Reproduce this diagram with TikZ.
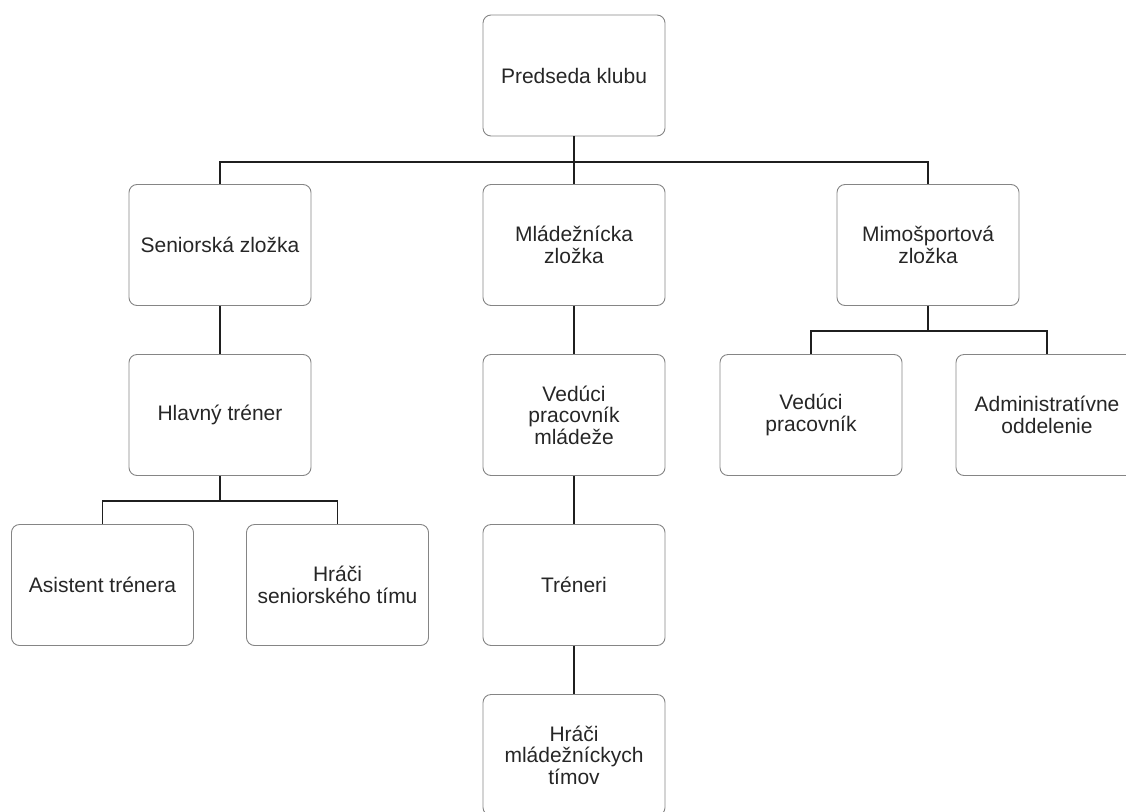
\documentclass[tikz,border=0pt]{standalone}
\usepackage{fontspec}
\setmainfont{Liberation Sans}
\begin{document}
\begin{tikzpicture}[x=1pt,y=-1pt,
  box/.style={draw=black!48,line width=0.9pt,rounded corners=8pt,minimum width=182pt,minimum height=121pt,align=center,inner sep=0pt,text=black!85,font=\fontsize{21}{21.5}\selectfont},
  link/.style={draw=black!88,line width=1.3pt},
  stem/.style={draw=black!88,line width=2pt}]
\useasboundingbox (0,0) rectangle (1126,811);
\clip (0,0) rectangle (1126,811);
\node[box] (P) at (574,75.5) {Predseda klubu};
\node[box] (S) at (220,245) {Seniorská zložka};
\node[box] (M) at (574,245) {Mládežnícka\\zložka};
\node[box] (O) at (928,245) {Mimošportová\\zložka};
\node[box] (H) at (220,415) {Hlavný tréner};
\node[box] (V) at (574,415) {Vedúci\\pracovník\\mládeže};
\node[box] (VP) at (811,415) {Vedúci\\pracovník};
\node[box] (AO) at (1047,415) {Administratívne\\oddelenie};
\node[box] (AT) at (102.5,585) {Asistent trénera};
\node[box] (HS) at (337.5,585) {Hráči\\seniorského tímu};
\node[box] (T) at (574,585) {Tréneri};
\node[box] (HM) at (574,755) {Hráči\\mládežníckych\\tímov};
\coordinate (b1) at (574,162);
\coordinate (b2) at (220,501);
\coordinate (b3) at (928,331);
\draw[stem] (P.south) -- (b1);
\draw[link] (b1) -| (S.north);
\draw[link] (b1) -| (O.north);
\draw[link] (b1) -- (M.north);
\draw[link] (S.south) -- (H.north);
\draw[stem] (H.south) -- (b2);
\draw[link] (b2) -| (AT.north);
\draw[link] (b2) -| (HS.north);
\draw[stem] (O.south) -- (b3);
\draw[link] (b3) -| (VP.north);
\draw[link] (b3) -| (AO.north);
\draw[link] (M.south) -- (V.north);
\draw[link] (V.south) -- (T.north);
\draw[link] (T.south) -- (HM.north);
\end{tikzpicture}
\end{document}
